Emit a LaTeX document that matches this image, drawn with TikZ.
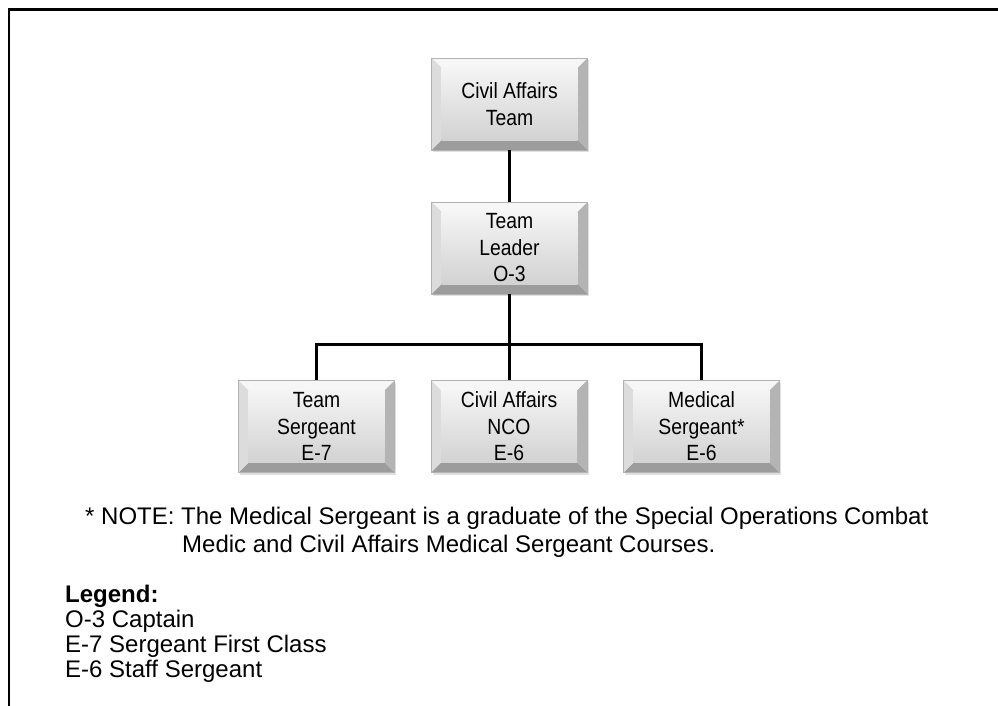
\documentclass[tikz,border=0pt]{standalone}
\usepackage{fontspec}
\setmainfont{Liberation Sans}
\newfontfamily\boxfont[FakeStretch=0.88]{Liberation Sans}
\usetikzlibrary{shadows}
\definecolor{bvTop}{HTML}{F6F6F6}
\definecolor{bvLeft}{HTML}{DCDCDC}
\definecolor{bvRight}{HTML}{B4B4B4}
\definecolor{bvBottom}{HTML}{9C9C9C}
\definecolor{faceTop}{HTML}{F4F4F4}
\definecolor{faceBot}{HTML}{D2D2D2}
\tikzset{
  bevelbox/.style={rectangle, minimum width=156pt, minimum height=92pt,
    inner sep=0pt, align=center, text=black,
    font=\boxfont\fontsize{22}{26.5}\selectfont,
    draw=black!30, line width=0.6pt,
    drop shadow={opacity=0.25, shadow xshift=1.5pt, shadow yshift=-2pt},
    path picture={
      \path (path picture bounding box.north west) coordinate (pNW)
            (path picture bounding box.north east) coordinate (pNE)
            (path picture bounding box.south west) coordinate (pSW)
            (path picture bounding box.south east) coordinate (pSE);
      \fill[bvTop] (pNW) -- (pNE) -- ([xshift=-10pt,yshift=-10pt]pNE) -- ([xshift=10pt,yshift=-10pt]pNW) -- cycle;
      \fill[bvBottom] (pSW) -- (pSE) -- ([xshift=-10pt,yshift=10pt]pSE) -- ([xshift=10pt,yshift=10pt]pSW) -- cycle;
      \fill[bvLeft] (pNW) -- (pSW) -- ([xshift=10pt,yshift=10pt]pSW) -- ([xshift=10pt,yshift=-10pt]pNW) -- cycle;
      \fill[bvRight] (pNE) -- (pSE) -- ([xshift=-10pt,yshift=10pt]pSE) -- ([xshift=-10pt,yshift=-10pt]pNE) -- cycle;
      \shade[top color=faceTop, bottom color=faceBot] ([xshift=10pt,yshift=-10pt]pNW) rectangle ([xshift=-10pt,yshift=10pt]pSE);
    }},
  conn/.style={line width=3pt, black},
  frame/.style={line width=2.5pt, black},
  notetext/.style={anchor=base west, inner sep=0pt, font=\fontsize{24}{28}\selectfont},
  legtext/.style={anchor=base west, inner sep=0pt, font=\fontsize{24}{25}\selectfont}
}
\begin{document}
\begin{tikzpicture}[x=1pt,y=-1pt]
\useasboundingbox (0,0) rectangle (998,706);
\coordinate (fA) at (998,9.7);
\coordinate (fB) at (9.2,9.7);
\coordinate (fC) at (9.2,706);
\draw[frame] (fA) -- (fB) -- (fC);

\node[bevelbox] (cat) at (509.5,104) {Civil Affairs\\Team};
\node[bevelbox] (lead) at (509.5,248) {Team\\Leader\\O-3};
\node[bevelbox] (ts) at (316.5,426.5) {Team\\Sergeant\\E-7};
\node[bevelbox] (nco) at (509,426.5) {Civil Affairs\\NCO\\E-6};
\node[bevelbox] (ms) at (701.5,426.5) {Medical\\Sergeant*\\E-6};

\coordinate (bar) at (509.5,344);
\draw[conn] (cat.south) -- (lead.north);
\draw[conn] (lead.south) -- (bar);
\draw[conn] (ts.north) |- (bar) -| (ms.north);
\draw[conn] (bar) -- (bar |- nco.north);

\node[notetext] (n1) at (85,524) {* NOTE: The Medical Sergeant is a graduate of the Special Operations Combat};
\node[notetext] (n2) at (182,552) {Medic and Civil Affairs Medical Sergeant Courses.};

\node[legtext, font=\bfseries\fontsize{24}{25}\selectfont] (lg) at (65,602) {Legend:};
\node[legtext] (l1) at (65,627) {O-3 Captain};
\node[legtext] (l2) at (65,652) {E-7 Sergeant First Class};
\node[legtext] (l3) at (65,677) {E-6 Staff Sergeant};
\end{tikzpicture}
\end{document}
